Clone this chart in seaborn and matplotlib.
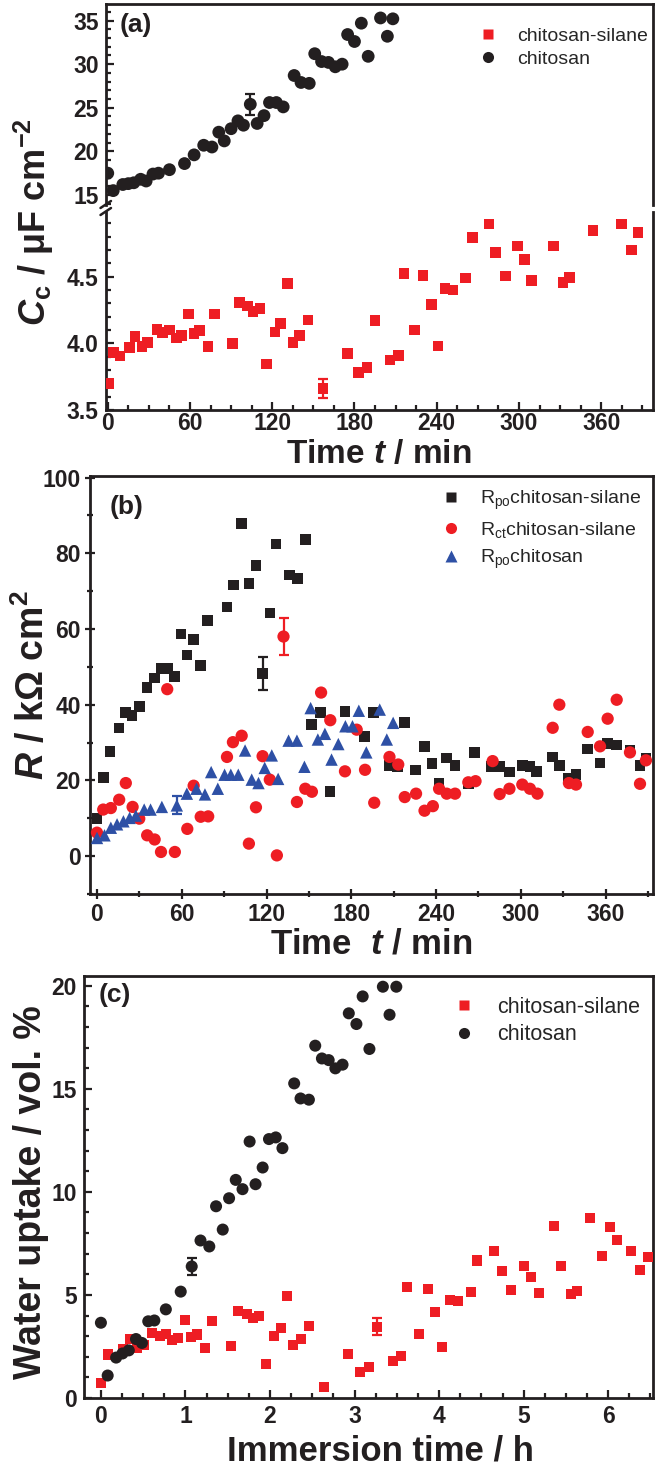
import numpy as np
import pandas as pd
import matplotlib
matplotlib.use('Agg')
import matplotlib.pyplot as plt
import seaborn as sns
from matplotlib.ticker import MultipleLocator, FormatStrFormatter
from matplotlib.lines import Line2D

# ---------------- data: panel (a) coating capacitance ----------------
a_silane_t = [1, 4, 9, 16, 20, 25, 29, 36, 40, 45, 50, 54, 59, 63, 67, 73, 78, 91, 96, 102,
              106, 111, 116, 122, 126, 131, 135, 140, 146, 157, 175, 183, 189, 195, 206, 212,
              216, 224, 230, 236, 241, 246, 252, 261, 266, 278, 283, 290, 299, 304, 309, 325,
              332, 337, 354, 375, 382, 387]
a_silane_c = [3.70, 3.93, 3.905, 3.97, 4.05, 3.975, 4.005, 4.105, 4.08, 4.10, 4.04, 4.06, 4.22,
              4.075, 4.095, 3.975, 4.22, 4.0, 4.305, 4.28, 4.24, 4.26, 3.845, 4.085, 4.15, 4.45,
              4.005, 4.06, 4.175, 3.66, 3.925, 3.78, 3.82, 4.17, 3.875, 3.91, 4.525, 4.10, 4.51,
              4.29, 3.98, 4.41, 4.40, 4.49, 4.795, 4.895, 4.68, 4.505, 4.73, 4.63, 4.47, 4.73,
              4.455, 4.495, 4.845, 4.895, 4.70, 4.83]
a_chit_t = [0, 4, 11, 15, 19, 24, 28, 33, 37, 45, 56, 63, 70, 76, 81, 85, 90, 95, 99, 104, 109,
            114, 118, 123, 128, 136, 141, 147, 151, 156, 161, 166, 171, 175, 180, 185, 190, 199,
            204, 208]
a_chit_c = [17.5, 15.5, 16.2, 16.3, 16.4, 16.8, 16.6, 17.4, 17.5, 17.9, 18.6, 19.6, 20.7, 20.5,
            22.2, 21.2, 22.6, 23.5, 23.0, 25.4, 23.2, 24.1, 25.6, 25.6, 25.1, 28.7, 27.9, 27.8,
            31.2, 30.3, 30.2, 29.7, 30.0, 33.4, 32.6, 34.7, 30.9, 35.3, 33.2, 35.2]
a_err_silane = [157, 3.66, 0.07]   # t, value, error
a_err_chit = [104, 25.4, 1.2]

# ---------------- data: panel (b) resistances ----------------
b_po_sil_t = [0, 4.4, 9.2, 15.7, 20.1, 24.9, 29.9, 35.5, 40.8, 45.3, 49.7, 54.8, 59.5, 63.6, 68.4,
              73.4, 78.4, 92, 96.5, 102.4, 107.7, 112.5, 117.2, 122.3, 126.7, 136.2, 142, 147.4,
              151.8, 158, 165, 175.5, 189.4, 195.6, 206.6, 212.5, 217.5, 225.5, 231.8, 237.1,
              242.1, 247.5, 253.4, 262.8, 267.3, 279.1, 285, 291.9, 301, 306.4, 311.2, 322.5,
              327.2, 333.6, 339, 347.3, 356, 361.4, 367.8, 377.2, 384.3, 388.5]
b_po_sil_r = [9.9, 20.7, 27.7, 33.8, 38.0, 37.1, 39.5, 44.5, 47.0, 49.5, 49.5, 47.5, 58.7, 53.1,
              57.2, 50.3, 62.2, 65.8, 71.6, 87.8, 72.0, 76.7, 48.3, 64.2, 82.4, 74.2, 73.3, 83.7,
              34.7, 38.0, 17.1, 38.2, 31.6, 38.0, 23.9, 23.7, 35.3, 22.7, 29.0, 24.4, 19.3, 25.9,
              23.9, 19.1, 27.3, 23.7, 23.7, 22.2, 24.0, 23.7, 22.4, 26.2, 24.0, 20.5, 21.6, 28.3,
              24.6, 29.7, 29.3, 28.0, 24.0, 25.8]
b_ct_sil_t = [0, 4.4, 9.8, 15.7, 20.4, 25.2, 29.9, 35.5, 40.8, 45.3, 49.7, 55.1, 63.9, 68.4, 73.4,
              78.7, 92, 96.2, 102.4, 107.5, 112.5, 117.2, 122.3, 127.3, 132, 141.5, 147.4, 152.1,
              158.6, 165.1, 175.5, 183.8, 189.7, 196.2, 207, 213.2, 217.8, 225.8, 231.8, 237.7,
              242.1, 247.5, 253.4, 262.8, 267.9, 280, 285, 291.9, 301, 306.4, 311.7, 322.5,
              327.2, 334, 339, 347.3, 356, 361.4, 367.8, 377.2, 384.3, 388.5]
b_ct_sil_r = [6.2, 12.3, 12.7, 14.9, 19.3, 13.0, 9.9, 5.5, 4.4, 1.1, 44.1, 1.1, 7.2, 18.6, 10.4,
              10.5, 26.2, 30.1, 31.8, 3.3, 12.9, 26.4, 20.2, 0.2, 58.0, 14.3, 17.8, 17.0, 43.2,
              35.9, 22.4, 33.4, 22.8, 14.1, 26.2, 24.2, 15.6, 16.5, 12.0, 13.2, 17.8, 16.5, 16.5,
              19.5, 19.8, 25.1, 16.4, 17.8, 18.9, 17.8, 16.5, 33.9, 40.0, 19.3, 18.9, 32.8, 29.0,
              36.3, 41.3, 27.4, 19.1, 25.3]
b_po_chit_t = [0, 5.3, 9.8, 14.2, 18.7, 23.1, 27.5, 33.4, 37.9, 45.9, 56.5, 63.6, 70.4, 76.4,
               80.8, 85.5, 90.3, 94.7, 100, 104.8, 109.5, 114.3, 118.7, 123.7, 128.2, 135.6,
               141.5, 146.8, 151.2, 156.3, 161.3, 166, 170.8, 175.8, 180.8, 185.3, 190.6, 200.1,
               205.1, 209.6]
b_po_chit_r = [4.8, 5.5, 7.5, 8.4, 9.2, 10.1, 10.7, 12.3, 12.3, 13.0, 13.4, 16.5, 17.8, 16.3,
               22.2, 17.8, 21.5, 21.5, 21.5, 27.9, 20.2, 19.3, 23.3, 26.6, 20.4, 30.5, 30.5,
               23.6, 39.1, 30.8, 32.3, 25.5, 29.6, 34.3, 34.3, 38.4, 27.4, 38.7, 30.8, 35.2]
b_err_po_sil = [117.2, 48.3, 4.4]
b_err_ct_sil = [132, 58.0, 5.0]
b_err_po_chit = [56.5, 13.4, 2.4]

# ---------------- data: panel (c) water uptake ----------------
c_sil_t = [0.005, 0.084, 0.26, 0.35, 0.43, 0.51, 0.60, 0.70, 0.765, 0.84, 0.915, 0.99, 1.07,
           1.14, 1.233, 1.317, 1.536, 1.62, 1.725, 1.804, 1.874, 1.948, 2.043, 2.127, 2.202,
           2.276, 2.366, 2.46, 2.639, 2.927, 3.062, 3.171, 3.27, 3.454, 3.554, 3.618, 3.762,
           3.867, 3.956, 4.036, 4.125, 4.22, 4.379, 4.448, 4.652, 4.742, 4.856, 5.005, 5.089,
           5.179, 5.363, 5.437, 5.557, 5.636, 5.78, 5.925, 6.019, 6.108, 6.272, 6.382, 6.476]
c_sil_w = [0.75, 2.11, 2.39, 2.87, 2.44, 2.55, 3.15, 3.03, 3.09, 2.79, 2.90, 3.76, 2.97, 3.08,
           2.41, 3.75, 2.54, 4.21, 4.08, 3.87, 4.0, 1.65, 3.03, 3.38, 4.97, 2.57, 2.86, 3.51,
           0.52, 2.14, 1.25, 1.49, 3.46, 1.81, 2.04, 5.37, 3.11, 5.29, 4.16, 2.46, 4.76, 4.72,
           5.16, 6.67, 7.15, 6.15, 5.24, 6.38, 5.89, 5.08, 8.32, 6.38, 5.05, 5.21, 8.74, 6.91,
           8.28, 7.67, 7.12, 6.21, 6.83]
c_chit_t = [0, 0.08, 0.18, 0.255, 0.33, 0.415, 0.485, 0.56, 0.632, 0.768, 0.944, 1.074, 1.178,
            1.282, 1.362, 1.441, 1.516, 1.595, 1.675, 1.759, 1.829, 1.913, 1.988, 2.068, 2.147,
            2.286, 2.361, 2.46, 2.535, 2.614, 2.694, 2.773, 2.858, 2.932, 3.022, 3.096, 3.176,
            3.335, 3.414, 3.494]
c_chit_w = [3.65, 1.09, 1.96, 2.16, 2.31, 2.86, 2.67, 3.72, 3.76, 4.30, 5.16, 6.38, 7.64, 7.35,
            9.3, 8.17, 9.69, 10.58, 10.13, 12.44, 10.37, 11.18, 12.56, 12.64, 12.12, 15.26,
            14.53, 14.47, 17.09, 16.47, 16.39, 15.99, 16.17, 18.66, 18.14, 19.48, 16.93, 19.95,
            18.59, 19.95]
c_err_sil = [3.27, 3.46, 0.40]
c_err_chit = [1.074, 6.38, 0.43]

# ---------------- style ----------------
sns.set_theme(style='ticks')
plt.rcParams['font.family'] = ['Liberation Sans', 'DejaVu Sans']
plt.rcParams['font.weight'] = 'bold'
plt.rcParams['mathtext.fontset'] = 'custom'
plt.rcParams['mathtext.it'] = 'Liberation Sans:italic:bold'
plt.rcParams['mathtext.rm'] = 'Liberation Sans:bold'
plt.rcParams['mathtext.bf'] = 'Liberation Sans:bold'

RED = '#EE1D23'
BLACK = '#231F20'
BLUE = '#2E50A5'
TICK_FS = 16.5

W, H = 656, 1472
fig = plt.figure(figsize=(W / 100, H / 100), dpi=100)


def rect(l, r, t, b):
    return [l / W, 1 - b / H, (r - l) / W, (b - t) / H]


def fx(x):
    return x / W


def fy(y):
    return 1 - y / H


def style(ax, direction='in', pad=5):
    ax.set_facecolor('white')
    for s in ax.spines.values():
        s.set_linewidth(2.0)
        s.set_color(BLACK)
    ax.tick_params(which='both', direction=direction, width=1.6, color=BLACK,
                   labelcolor=BLACK, labelsize=TICK_FS, top=False, right=False)
    ax.tick_params(which='major', length=6, pad=pad)
    ax.tick_params(which='minor', length=3.5)
    ax.grid(False)


def scatter(ax, x, y, marker, color, size, z=3):
    sns.scatterplot(x=x, y=y, marker=marker, s=size, color=color, edgecolor='none',
                    linewidth=0, ax=ax, legend=False, zorder=z)


def ebar(ax, e, color):
    ax.errorbar([e[0]], [e[1]], yerr=[e[2]], fmt='none', ecolor=color, elinewidth=1.6,
                capsize=3.5, capthick=1.6, zorder=4)


# ---------------- panel (a) ----------------
axA1 = fig.add_axes(rect(105.7, 653, 4, 205))
axA2 = fig.add_axes(rect(105.7, 653, 212, 410))
for ax in (axA1, axA2):
    style(ax)
    ax.set_xlim(-1.5, 397.8)
    ax.xaxis.set_major_locator(MultipleLocator(60))
    ax.xaxis.set_minor_locator(MultipleLocator(15))

scatter(axA1, a_chit_t, a_chit_c, 'o', BLACK, 85)
ebar(axA1, a_err_chit, BLACK)
axA1.set_ylim(13.85, 36.9)
axA1.yaxis.set_major_locator(MultipleLocator(5))
axA1.yaxis.set_minor_locator(MultipleLocator(1))
axA1.spines['bottom'].set_visible(False)
axA1.tick_params(which='both', bottom=False, labelbottom=False)

scatter(axA2, a_silane_t, a_silane_c, 's', RED, 58)
ebar(axA2, a_err_silane, RED)
axA2.set_ylim(3.5, 4.985)
axA2.yaxis.set_major_locator(MultipleLocator(0.5))
axA2.yaxis.set_minor_locator(MultipleLocator(0.1))
axA2.yaxis.set_major_formatter(FormatStrFormatter('%.1f'))
axA2.spines['top'].set_visible(False)
axA2.tick_params(axis='x', pad=1.5)
for ax in (axA1, axA2):
    ax.set_xlabel('')
    ax.set_ylabel('')

# break marks on the left axis
for yb in (204.5, 211.5):
    fig.add_artist(Line2D([fx(100.5), fx(111)], [fy(yb + 3.5), fy(yb - 3.5)],
                          color=BLACK, lw=1.8, transform=fig.transFigure))

fig.text(fx(120), fy(25), '(a)', fontsize=19, fontweight='bold', ha='left', va='center',
         color=BLACK)
leg_a = [Line2D([], [], ls='none', marker='s', ms=7, color=RED, mec='none', label='chitosan-silane'),
         Line2D([], [], ls='none', marker='o', ms=8, color=BLACK, mec='none', label='chitosan')]
axA1.legend(handles=leg_a, loc='upper left', bbox_to_anchor=(fx(479), fy(27)),
            bbox_transform=fig.transFigure, frameon=False, borderpad=0, borderaxespad=0,
            handlelength=0.95, handletextpad=1.0, labelspacing=0.3,
            prop={'weight': 'normal', 'size': 14})

fig.text(fx(34), fy(222), r'$C_\mathregular{c}$ / μF cm$^\mathregular{-2}$', rotation=90,
         fontsize=26, fontweight='bold', ha='center', va='center', color=BLACK)
fig.text(fx(379), fy(455), r'Time $t$ / min', fontsize=24, fontweight='bold',
         ha='center', va='center', color=BLACK)

# ---------------- panel (b) ----------------
axB = fig.add_axes(rect(90, 653, 476, 894))
style(axB, direction='inout', pad=3)
scatter(axB, b_po_sil_t, b_po_sil_r, 's', BLACK, 58)
scatter(axB, b_ct_sil_t, b_ct_sil_r, 'o', RED, 78)
scatter(axB, b_po_chit_t, b_po_chit_r, '^', BLUE, 80)
ebar(axB, b_err_po_sil, BLACK)
ebar(axB, b_err_ct_sil, RED)
ebar(axB, b_err_po_chit, BLUE)
axB.set_xlim(-4.95, 393.5)
axB.set_ylim(-10, 100.4)
axB.set_xticks(np.arange(0, 361, 60))
axB.set_yticks(np.arange(0, 101, 20))
axB.xaxis.set_minor_locator(MultipleLocator(30))
axB.yaxis.set_minor_locator(MultipleLocator(10))
axB.tick_params(which='major', length=7)
axB.tick_params(which='minor', length=4)
axB.set_xlabel('')
axB.set_ylabel('')

fig.text(fx(110), fy(507), '(b)', fontsize=19, fontweight='bold', ha='left', va='center',
         color=BLACK)
leg_b = [Line2D([], [], ls='none', marker='s', ms=7, color=BLACK, mec='none',
                label=r'R$_\mathregular{po}$chitosan-silane'),
         Line2D([], [], ls='none', marker='o', ms=8, color=RED, mec='none',
                label=r'R$_\mathregular{ct}$chitosan-silane'),
         Line2D([], [], ls='none', marker='^', ms=8, color=BLUE, mec='none',
                label=r'R$_\mathregular{po}$chitosan')]
axB.legend(handles=leg_b, loc='upper left', bbox_to_anchor=(fx(442), fy(489)),
           bbox_transform=fig.transFigure, frameon=False, borderpad=0, borderaxespad=0,
           handlelength=0.95, handletextpad=1.0, labelspacing=0.4,
           prop={'weight': 'normal', 'size': 14})

fig.text(fx(33), fy(685), r'$R$ / kΩ cm$^\mathregular{2}$', rotation=90,
         fontsize=27, fontweight='bold', ha='center', va='center', color=BLACK)
fig.text(fx(371), fy(944), r'Time  $t$ / min', fontsize=25, fontweight='bold',
         ha='center', va='center', color=BLACK)

# ---------------- panel (c) ----------------
axC = fig.add_axes(rect(84, 653, 976, 1398))
style(axC)
scatter(axC, c_sil_t, c_sil_w, 's', RED, 52)
scatter(axC, c_chit_t, c_chit_w, 'o', BLACK, 75, z=3.5)
ebar(axC, c_err_sil, RED)
ebar(axC, c_err_chit, BLACK)
axC.set_xlim(-0.2, 6.53)
axC.set_ylim(0, 20.47)
axC.xaxis.set_major_locator(MultipleLocator(1))
axC.xaxis.set_minor_locator(MultipleLocator(0.25))
axC.yaxis.set_major_locator(MultipleLocator(5))
axC.yaxis.set_minor_locator(MultipleLocator(1))
axC.set_xlabel('')
axC.set_ylabel('')

fig.text(fx(99), fy(995), '(c)', fontsize=19, fontweight='bold', ha='left', va='center',
         color=BLACK)
leg_c = [Line2D([], [], ls='none', marker='s', ms=7, color=RED, mec='none', label='chitosan-silane'),
         Line2D([], [], ls='none', marker='o', ms=8, color=BLACK, mec='none', label='chitosan')]
axC.legend(handles=leg_c, loc='upper left', bbox_to_anchor=(fx(455), fy(997)),
           bbox_transform=fig.transFigure, frameon=False, borderpad=0, borderaxespad=0,
           handlelength=0.85, handletextpad=1.1, labelspacing=0.3,
           prop={'weight': 'normal', 'size': 15.5})

fig.text(fx(31), fy(1192), 'Water uptake / vol. %', rotation=90,
         fontsize=27, fontweight='bold', ha='center', va='center', color=BLACK)
fig.text(fx(380), fy(1451), 'Immersion time / h', fontsize=25, fontweight='bold',
         ha='center', va='center', color=BLACK)

fig.savefig('out.png', dpi=100, facecolor='white')
